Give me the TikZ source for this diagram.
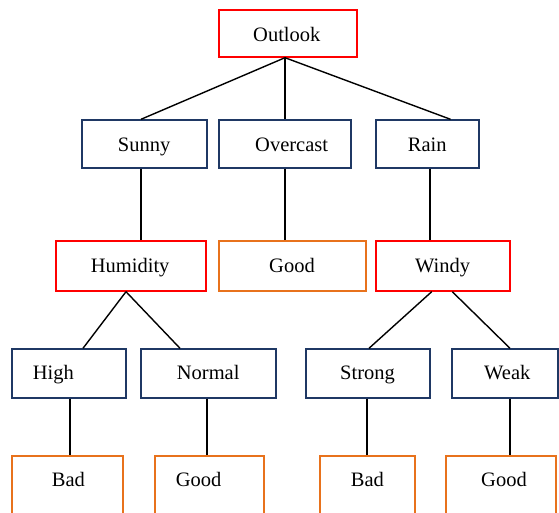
\documentclass[tikz,border=0pt]{standalone}
\usepackage{fontspec}
\setmainfont{Liberation Serif}
\definecolor{navy}{RGB}{31,56,100}
\definecolor{boxred}{RGB}{255,0,0}
\definecolor{boxorange}{RGB}{232,114,28}
\tikzset{
  bx/.style={draw=#1, line width=1.4pt, rectangle, inner sep=0pt, fill=white},
  lbl/.style={anchor=base west, inner sep=0pt, font=\fontsize{20.5}{24}\selectfont},
  con/.style={draw=black, line width=1.4pt}
}
\begin{document}
\begin{tikzpicture}[x=1pt,y=-1pt]
\useasboundingbox (0,0) rectangle (559,513);
\clip (0,0) rectangle (559,513);
% boxes
\node[bx=boxred, minimum width=138pt, minimum height=47pt] (outlook) at (288,33.5) {};
\node[bx=navy, minimum width=125pt, minimum height=48pt] (sunny) at (144.5,144) {};
\node[bx=navy, minimum width=132pt, minimum height=48pt] (overcast) at (285,144) {};
\node[bx=navy, minimum width=103pt, minimum height=48pt] (rain) at (427.5,144) {};
\node[bx=boxred, minimum width=150pt, minimum height=50pt] (humidity) at (131,266) {};
\node[bx=boxorange, minimum width=147pt, minimum height=50pt] (good1) at (292.5,266) {};
\node[bx=boxred, minimum width=134pt, minimum height=50pt] (windy) at (443,266) {};
\node[bx=navy, minimum width=114pt, minimum height=49pt] (high) at (69,373.5) {};
\node[bx=navy, minimum width=135pt, minimum height=49pt] (normal) at (208.5,373.5) {};
\node[bx=navy, minimum width=124pt, minimum height=49pt] (strong) at (368,373.5) {};
\node[bx=navy, minimum width=106pt, minimum height=49pt] (weak) at (505,373.5) {};
\node[bx=boxorange, minimum width=111pt, minimum height=74pt] (bad1) at (67.5,493) {};
\node[bx=boxorange, minimum width=109pt, minimum height=74pt] (good2) at (209.5,493) {};
\node[bx=boxorange, minimum width=95pt, minimum height=74pt] (bad2) at (367.5,493) {};
\node[bx=boxorange, minimum width=110pt, minimum height=74pt] (good3) at (501,493) {};
% labels
\node[lbl] (toutlook) at (253,41.7) {Outlook};
\node[lbl] (tsunny) at (117.7,151.7) {Sunny};
\node[lbl] (tovercast) at (255,151.7) {Overcast};
\node[lbl] (train) at (407.7,151.7) {Rain};
\node[lbl] (thumidity) at (90.7,272.7) {Humidity};
\node[lbl] (tgood1) at (269,272.7) {Good};
\node[lbl] (twindy) at (415,272.7) {Windy};
\node[lbl] (thigh) at (32.7,379) {High};
\node[lbl] (tnormal) at (176.7,379) {Normal};
\node[lbl] (tstrong) at (340,379) {Strong};
\node[lbl] (tweak) at (484,379) {Weak};
\node[lbl] (tbad1) at (51.7,486) {Bad};
\node[lbl] (tgood2) at (175.7,486) {Good};
\node[lbl] (tbad2) at (350.7,486) {Bad};
\node[lbl] (tgood3) at (481,486) {Good};
% connectors
\draw[con] ([xshift=-3pt]outlook.south) -- ([xshift=-3.5pt]sunny.north);
\draw[con] ([xshift=-3pt]outlook.south) -- (overcast.north);
\draw[con] ([xshift=-3pt]outlook.south) -- ([xshift=23pt]rain.north);
\draw[con] ([xshift=-3.5pt]sunny.south) -- ([xshift=-3.5pt]sunny.south |- humidity.north);
\draw[con] (overcast.south) -- (overcast.south |- good1.north);
\draw[con] ([xshift=2.5pt]rain.south) -- ([xshift=2.5pt]rain.south |- windy.north);
\draw[con] ([xshift=-5pt]humidity.south) -- ([xshift=14pt]high.north);
\draw[con] ([xshift=-5pt]humidity.south) -- ([xshift=-28.5pt]normal.north);
\draw[con] ([xshift=-11.3pt]windy.south) -- ([xshift=1pt]strong.north);
\draw[con] ([xshift=9.3pt]windy.south) -- ([xshift=5pt]weak.north);
\draw[con] ([xshift=1pt]high.south) -- ([xshift=1pt]high.south |- bad1.north);
\draw[con] ([xshift=-1.5pt]normal.south) -- ([xshift=-1.5pt]normal.south |- good2.north);
\draw[con] ([xshift=-1pt]strong.south) -- ([xshift=-1pt]strong.south |- bad2.north);
\draw[con] ([xshift=5pt]weak.south) -- ([xshift=5pt]weak.south |- good3.north);
\end{tikzpicture}
\end{document}
